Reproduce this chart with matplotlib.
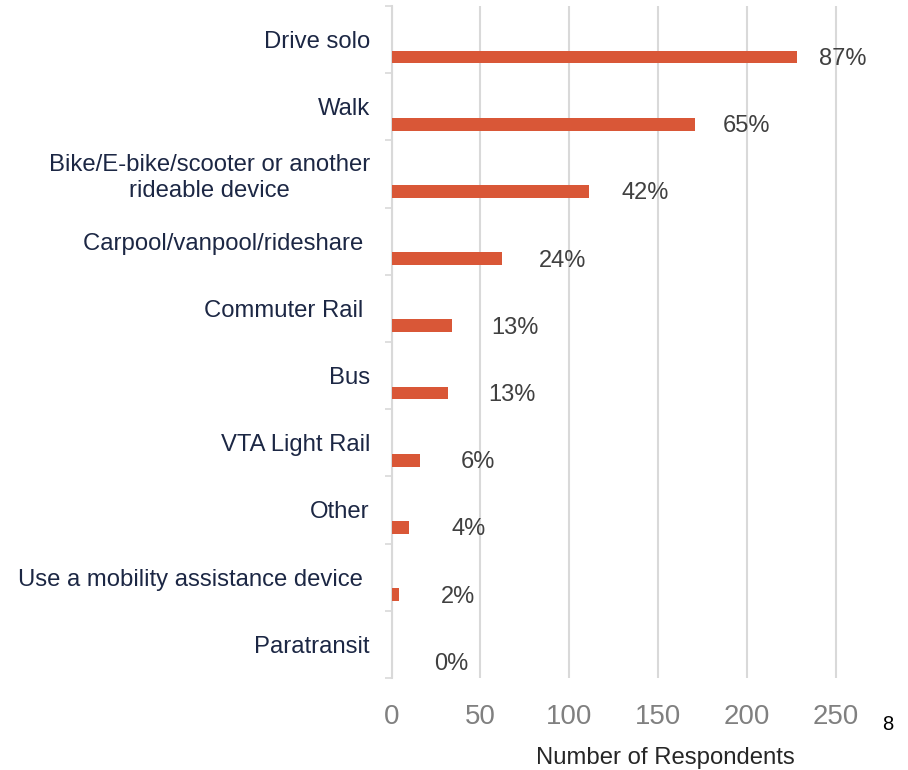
import matplotlib
matplotlib.use("Agg")
import matplotlib.pyplot as plt
import numpy as np

categories = [
    "Drive solo",
    "Walk",
    "Bike/E-bike/scooter or another\nrideable device",
    "Carpool/vanpool/rideshare ",
    "Commuter Rail ",
    "Bus",
    "VTA Light Rail",
    "Other",
    "Use a mobility assistance device ",
    "Paratransit",
]
counts = [228, 171, 111, 62, 34, 32, 16, 10, 4, 0]
pct_labels = ["87%", "65%", "42%", "24%", "13%", "13%", "6%", "4%", "2%", "0%"]
xticks = [0, 50, 100, 150, 200, 250]

plt.rcParams["font.family"] = ["Liberation Sans", "DejaVu Sans"]

W, H = 908, 770
fig = plt.figure(figsize=(W / 100, H / 100), dpi=100)
ax = fig.add_axes([391.5 / W, 1 - 678 / H, (871.3 - 391.5) / W, (678 - 6) / H])

bar_color = "#D95737"
grid_color = "#D9D9D9"
label_color = "#1C2744"

y = np.arange(len(categories))
bar_off = 0.26
ax.barh(y + bar_off, counts, height=0.19, color=bar_color, zorder=3)

for yi, v, lab in zip(y, counts, pct_labels):
    ax.text(0.95 * v + 24, yi + bar_off + 0.03, lab, ha="left", va="center",
            fontsize=17, color="#404040", zorder=4)

ax.set_xlim(0, 270)
ax.set_ylim(len(categories) - 0.5, -0.5)

ax.set_xticks(xticks)
ax.set_xticklabels([str(t) for t in xticks])
ax.tick_params(axis="x", length=0, pad=19, labelsize=19.9, labelcolor="#808080")

ax.set_yticks(y)
ax.set_yticklabels(categories)
ax.tick_params(axis="y", which="major", length=0, pad=15.5, labelsize=17.2,
               labelcolor=label_color)
ax.set_yticks(np.arange(-0.5, len(categories), 1.0), minor=True)
ax.tick_params(axis="y", which="minor", length=5, width=1.2, color=grid_color)
for t in ax.get_yticklabels():
    t.set_multialignment("center")
    t.set_linespacing(1.22)

ax.grid(axis="x", color=grid_color, linewidth=1.5, zorder=0)
ax.set_axisbelow(True)
for s in ["top", "right", "bottom"]:
    ax.spines[s].set_visible(False)
ax.spines["left"].set_color(grid_color)
ax.spines["left"].set_linewidth(1.5)

fig.text(665 / W, 1 - 758 / H, "Number of Respondents", ha="center", va="center",
         fontsize=17.2, color="#262626")
fig.text(888 / W, 1 - 724 / H, "8", ha="center", va="center",
         fontsize=14.5, color="#000000")

fig.savefig("out.png", dpi=100)
